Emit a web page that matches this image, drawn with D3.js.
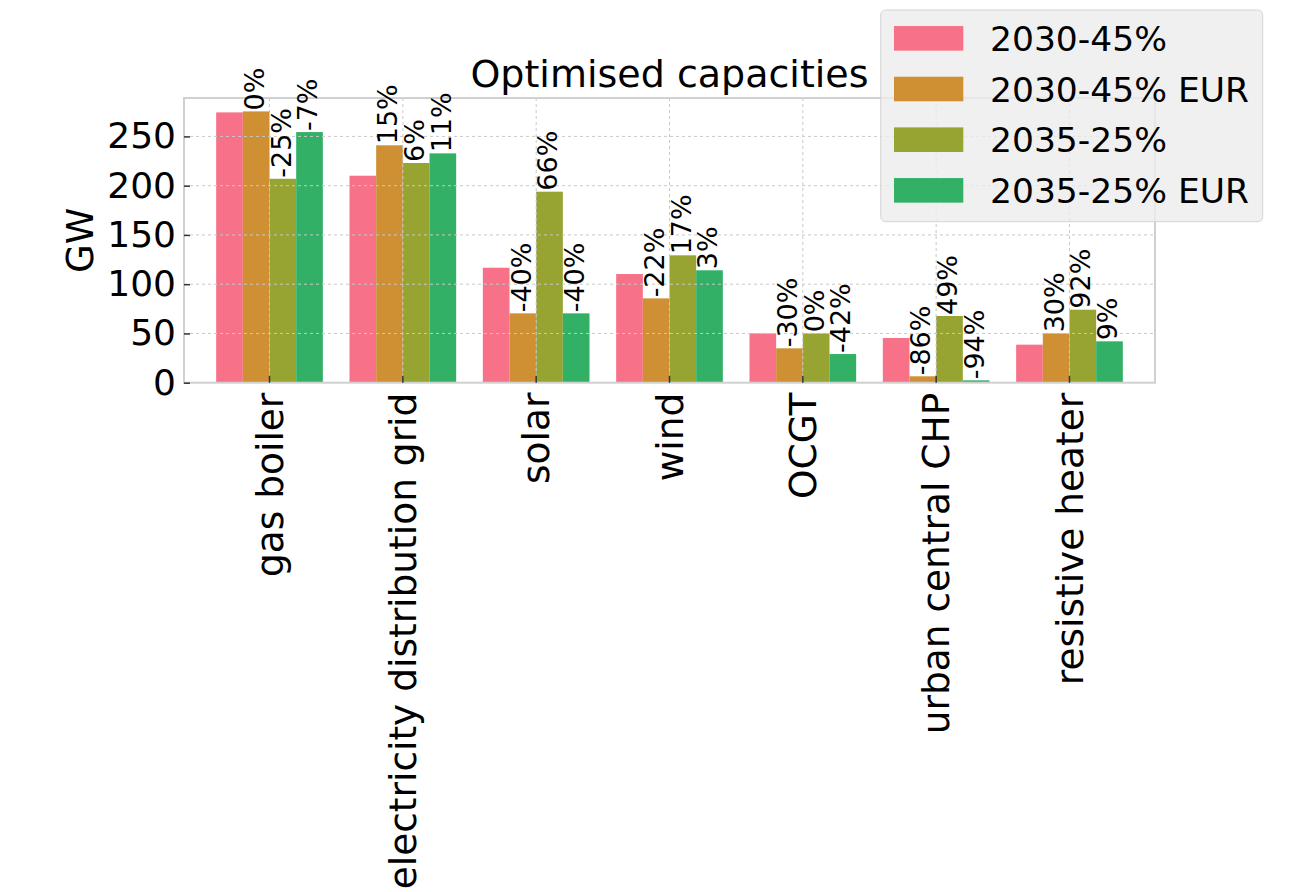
<!DOCTYPE html>
<html>
<head>
<meta charset="utf-8">
<script src="https://cdn.jsdelivr.net/npm/d3@7"></script>
<style>
  html, body { margin: 0; padding: 0; background: #ffffff; }
  svg { display: block; font-family: "DejaVu Sans", sans-serif; }
</style>
</head>
<body>
<svg id="chart" width="1312" height="892"></svg>
<script>
// ---- data ----
const categories = ["gas boiler", "electricity distribution grid", "solar", "wind", "OCGT", "urban central CHP", "resistive heater"];
const seriesNames = ["2030-45%", "2030-45% EUR", "2035-25%", "2035-25% EUR"];
const s2030_45    = [274.4, 210.1, 116.7, 110.3, 50.1, 45.4, 38.6];
const s2030_45EUR = [275.4, 241.0,  70.4,  85.6, 34.9,  6.5, 50.1];
const s2035_25    = [207.0, 223.0, 193.9, 129.3, 50.1, 67.7, 74.1];
const s2035_25EUR = [254.4, 232.8,  70.4, 114.1, 29.1,  2.4, 42.0];
const pct2030_45EUR = ["0%", "15%", "-40%", "-22%", "-30%", "-86%", "30%"];
const pct2035_25    = ["-25%", "6%", "66%", "17%", "0%", "49%", "92%"];
const pct2035_25EUR = ["-7%", "11%", "-40%", "3%", "-42%", "-94%", "9%"];
const yTicks = [0, 50, 100, 150, 200, 250];
const colors = ["#f77189", "#ce9032", "#97a431", "#32b166"];

const seriesValues = [s2030_45, s2030_45EUR, s2035_25, s2035_25EUR];
const seriesPct = [null, pct2030_45EUR, pct2035_25, pct2035_25EUR];

// ---- layout ----
const svg = d3.select("#chart");
const L = 184, R = 1155, T = 98, B = 382.7;

const x = d3.scaleBand().domain(categories).range([L, R]).paddingInner(0).paddingOuter(0.1414);
const xs = d3.scaleBand().domain(seriesNames).range([0.1 * x.bandwidth(), 0.9 * x.bandwidth()]).padding(0);
const y = d3.scaleLinear().domain([0, 289]).range([B, T]);

svg.append("rect").attr("width", 1312).attr("height", 892).attr("fill", "#ffffff");

// bars
const bars = svg.append("g");
seriesNames.forEach((name, si) => {
  bars.selectAll(null)
    .data(categories.map((c, i) => ({ c, v: seriesValues[si][i], i })))
    .enter().append("rect")
    .attr("x", d => x(d.c) + xs(name))
    .attr("width", xs.bandwidth())
    .attr("y", d => y(d.v))
    .attr("height", d => B - y(d.v))
    .attr("fill", colors[si]);
});

// grid (on top of bars)
const grid = svg.append("g").attr("stroke", "#c8c8c8").attr("stroke-width", 1).attr("stroke-dasharray", "3,3").attr("fill", "none");
grid.selectAll(null).data(yTicks.filter(t => t > 0)).enter().append("line")
  .attr("x1", L).attr("x2", R).attr("y1", d => y(d)).attr("y2", d => y(d));
grid.selectAll(null).data(categories).enter().append("line")
  .attr("x1", d => x(d) + x.bandwidth() / 2).attr("x2", d => x(d) + x.bandwidth() / 2)
  .attr("y1", T).attr("y2", B);

// frame
svg.append("rect").attr("x", L).attr("y", T).attr("width", R - L).attr("height", B - T)
  .attr("fill", "none").attr("stroke", "#d0d0d0").attr("stroke-width", 2);

// y axis
const yAxis = svg.append("g").attr("transform", `translate(${L},0)`)
  .call(d3.axisLeft(y).tickValues(yTicks).tickSize(-6).tickPadding(8).tickFormat(d3.format("d")));
yAxis.select(".domain").remove();
yAxis.selectAll(".tick line").attr("stroke", "#333333").attr("stroke-width", 1.5);
yAxis.selectAll(".tick text").attr("font-size", 36).attr("fill", "#000").attr("font-family", "DejaVu Sans");

// x axis
const xAxis = svg.append("g").attr("transform", `translate(0,${B})`)
  .call(d3.axisBottom(x).tickSize(-7));
xAxis.select(".domain").remove();
xAxis.selectAll(".tick line").attr("stroke", "#333333").attr("stroke-width", 1.5);
xAxis.selectAll(".tick text")
  .attr("font-size", 37.5).attr("fill", "#000").attr("font-family", "DejaVu Sans")
  .attr("transform", "rotate(-90)")
  .attr("text-anchor", "end")
  .attr("x", -10).attr("y", 0).attr("dy", "0.35em");

// percentage labels
const labels = svg.append("g").attr("font-size", 27).attr("fill", "#000");
seriesNames.forEach((name, si) => {
  if (!seriesPct[si]) return;
  labels.selectAll(null)
    .data(categories.map((c, i) => ({ c, v: seriesValues[si][i], t: seriesPct[si][i] })))
    .enter().append("text")
    .attr("transform", d => `translate(${x(d.c) + xs(name) + 21},${y(d.v) - 1}) rotate(-90)`)
    .attr("text-anchor", "start")
    .text(d => d.t);
});

// title
svg.append("text").attr("x", (L + R) / 2).attr("y", 87).attr("text-anchor", "middle")
  .attr("font-size", 38).attr("fill", "#000").text("Optimised capacities");

// y label
svg.append("text").attr("transform", `translate(93,${(T + B) / 2}) rotate(-90)`)
  .attr("text-anchor", "middle").attr("font-size", 37).attr("fill", "#000").text("GW");

// legend
const lg = svg.append("g");
lg.append("rect").attr("x", 880.7).attr("y", 10).attr("width", 382).attr("height", 211.7)
  .attr("rx", 5).attr("ry", 5)
  .attr("fill", "#ececec").attr("fill-opacity", 0.8)
  .attr("stroke", "#cccccc").attr("stroke-opacity", 0.8).attr("stroke-width", 1);
const rowY = d3.scaleBand().domain(seriesNames).range([13, 215.7]);
seriesNames.forEach((name, si) => {
  const cy = rowY(name) + rowY.bandwidth() / 2;
  lg.append("rect").attr("x", 894).attr("y", cy - 12.3).attr("width", 69.3).attr("height", 24.6).attr("fill", colors[si]);
  lg.append("text").attr("x", 990).attr("y", cy + 12.5).attr("font-size", 34.5).attr("fill", "#000").text(name);
});
</script>
</body>
</html>
